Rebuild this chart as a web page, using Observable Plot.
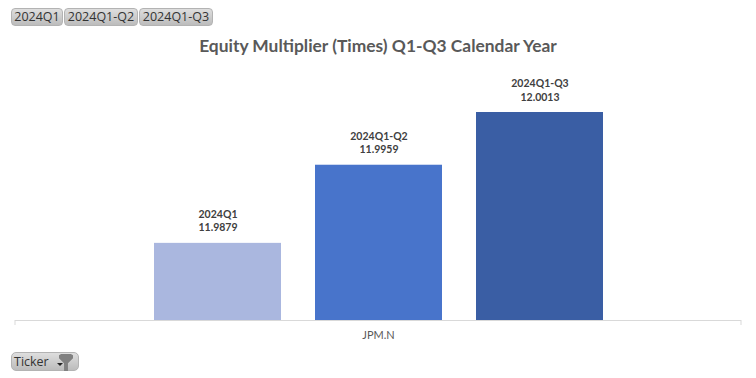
<!DOCTYPE html>
<html lang="en">
<head>
<meta charset="utf-8">
<script src="https://cdn.jsdelivr.net/npm/d3@7"></script>
<script src="https://cdn.jsdelivr.net/npm/@observablehq/plot@0.6"></script>
<style>
html,body{margin:0;padding:0;background:#fff;width:756px;height:378px;overflow:hidden}
#head{position:relative;height:60px}
#chips{position:absolute;left:11px;top:8px;display:flex;gap:1px}
.chip{box-sizing:border-box;height:18px;text-align:center;border:1px solid #b3b3b3;border-radius:4px;
 background:linear-gradient(#dedede,#bcbcbc);color:#333;font:12.5px/16px "Open Sans",sans-serif;white-space:nowrap;overflow:hidden}
#title{position:absolute;left:0;right:0;top:36px;text-align:center;font:bold 17.4px/20px "Lato",sans-serif;color:#595959}
#foot{position:relative;height:33px}
#ticker{position:absolute;left:11px;top:7px;width:68px;height:19px;box-sizing:border-box;border:1px solid #b3b3b3;border-radius:5px;
 background:linear-gradient(#dedede,#bcbcbc);color:#333;font:12.5px/17px "Open Sans",sans-serif;padding-left:2px}
#funnel{position:absolute;left:47px;top:1px;width:14px;height:17px;background:#808080;clip-path:polygon(0 8%,15% 0,85% 0,100% 8%,100% 25%,64% 55%,64% 100%,36% 100%,36% 55%,0 25%)}
#arrow{position:absolute;left:45px;top:10px;width:0;height:0;border-left:3px solid transparent;border-right:3px solid transparent;border-top:3px solid #222}
</style>
</head>
<body>
<div id="head"><div id="chips"></div><div id="title"></div></div>
<div id="chart"></div>
<div id="foot"><div id="ticker">Ticker<div id="funnel"></div><div id="arrow"></div></div></div>
<script>
const title = "Equity Multiplier (Times) Q1-Q3 Calendar Year";
const ticker = "JPM.N";
const periods = ["2024Q1", "2024Q1-Q2", "2024Q1-Q3"];
const values = [11.9879, 11.9959, 12.0013];
const palette = ["#AAB7DF", "#4874CB", "#3A5EA4"];
const yFloor = 11.98;
const chipWidths = [52, 74, 74];

document.getElementById("title").textContent = title;
periods.forEach((p, i) => {
  const c = document.createElement("div");
  c.className = "chip"; c.textContent = p; c.style.width = chipWidths[i] + "px";
  document.getElementById("chips").appendChild(c);
});

const rows = periods.map((period, i) => ({ticker, period, value: values[i]}));

const endTicks = (index, scales, channels, dims) => {
  const g = d3.create("svg:path")
    .attr("d", `M${dims.marginLeft},${dims.height - dims.marginBottom}v5M${dims.width - dims.marginRight},${dims.height - dims.marginBottom}v5`)
    .attr("stroke", "#d9d9d9").attr("fill", "none");
  return g.node();
};

const chart = Plot.plot({
  width: 756, height: 285,
  marginLeft: 15, marginRight: 15, marginTop: 52, marginBottom: 25,
  style: {background: "#fff"},
  fx: {domain: [ticker], padding: 0, label: null},
  x: {domain: periods, paddingInner: 0.2112, paddingOuter: 0.86, axis: null},
  y: {domain: [yFloor, d3.max(values)], axis: null},
  color: {domain: periods, range: palette},
  marks: [
    Plot.barY(rows, {fx: "ticker", x: "period", y1: () => yFloor, y2: "value", fill: "period"}),
    Plot.ruleY([yFloor], {stroke: "#d9d9d9", strokeWidth: 1}),
    Plot.text(rows, {
      fx: "ticker", x: "period", y: "value",
      text: d => `${d.period}\n${d.value.toFixed(4)}`,
      lineAnchor: "bottom", dy: -12, lineHeight: 1.3,
      fill: "#404040", fontWeight: "bold", fontSize: 10.5, fontFamily: "Lato, sans-serif"
    }),
    Plot.axisFx({anchor: "bottom", tickSize: 0, tickPadding: 11, label: null, fontSize: 11, fontFamily: "Lato, sans-serif", color: "#595959"}),
    endTicks
  ]
});
document.getElementById("chart").appendChild(chart);
chart.style.display = "block";
</script>
</body>
</html>
